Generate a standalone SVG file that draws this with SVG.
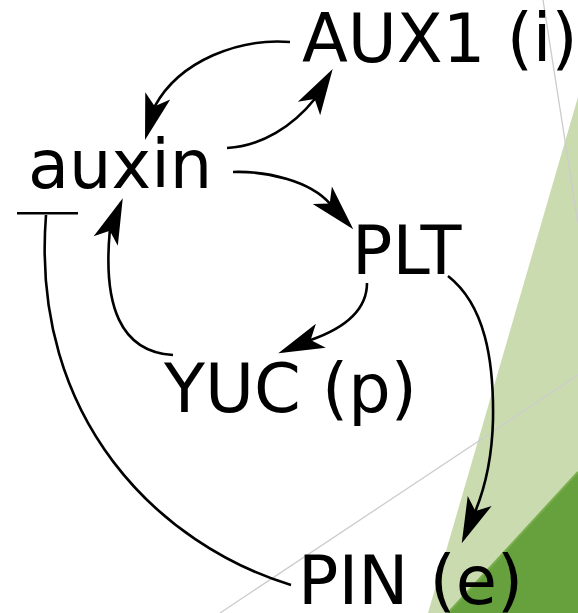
<svg xmlns="http://www.w3.org/2000/svg" width="578" height="613" viewBox="0 0 578 613">
  <style>
    .label { font-family: "DejaVu Sans", "Liberation Sans", sans-serif; font-size: 67px; fill: #000; }
    .edge { fill: none; stroke: #000; stroke-width: 2.6; stroke-linecap: butt; stroke-linejoin: round; }
    .guide { fill: none; stroke: #cccccc; stroke-width: 1.3; }
  </style>
  <defs>
    <!-- swept-back arrowhead; origin sits just behind the tip -->
    <marker id="arrow" markerUnits="userSpaceOnUse" orient="auto" refX="0" refY="0"
            markerWidth="60" markerHeight="40" viewBox="-45 -20 60 40" overflow="visible">
      <path d="M5,0 L-41,-13 L-30,0 L-41,13 Z" fill="#000"/>
    </marker>
  </defs>

  <!-- backdrop -->
  <g id="backdrop">
    <polygon points="578,97 578,613 428,613" fill="#cbdbb0"/>
    <polygon points="578,472 578,613 448,613" fill="#67a13d"/>
    <line x1="578" y1="472" x2="448" y2="613" stroke="#79ae4d" stroke-width="2"/>
    <line class="guide" x1="543" y1="0" x2="578" y2="224"/>
    <line class="guide" x1="220" y1="613" x2="578" y2="375"/>
  </g>

  <!-- connectors -->
  <g id="connectors">
    <!-- auxin -> AUX1 -->
    <path class="edge" marker-end="url(#arrow)" d="M227,148 C262,146 293,126 314.7,99 L330.1,73.3"/>
    <!-- AUX1 -> auxin -->
    <path class="edge" marker-end="url(#arrow)" d="M290,42 C240,38 180,60 154.7,106.4 L146.4,135.2"/>
    <!-- auxin -> PLT -->
    <path class="edge" marker-end="url(#arrow)" d="M233,172 C268,171 310,181 329.7,203.4 L349.9,225.6"/>
    <!-- PLT -> YUC -->
    <path class="edge" marker-end="url(#arrow)" d="M367,283 C367,310 345,328 310.7,340 L282.9,351.4"/>
    <!-- YUC -> auxin -->
    <path class="edge" marker-end="url(#arrow)" d="M173,355 C120,352 103,305 109.8,230.8 L120.9,202.9"/>
    <!-- PLT -> PIN -->
    <path class="edge" marker-end="url(#arrow)" d="M448,276 C485,305 494,360 493,420 C492,460 484,490 475.4,511.1 L463.7,538.7"/>
    <!-- PIN inhibits auxin -->
    <path class="edge" d="M291,585 C160,545 30,420 46,215"/>
    <path class="edge" d="M17,213.3 H78"/>
  </g>

  <!-- nodes -->
  <g id="node-aux1"><text class="label" x="302" y="62">AUX1 (i)</text></g>
  <g id="node-auxin"><text class="label" x="28" y="188">auxin</text></g>
  <g id="node-plt"><text class="label" x="352" y="274">PLT</text></g>
  <g id="node-yuc"><text class="label" x="164" y="412">YUC (p)</text></g>
  <g id="node-pin"><text class="label" x="298" y="604">PIN (e)</text></g>
</svg>
